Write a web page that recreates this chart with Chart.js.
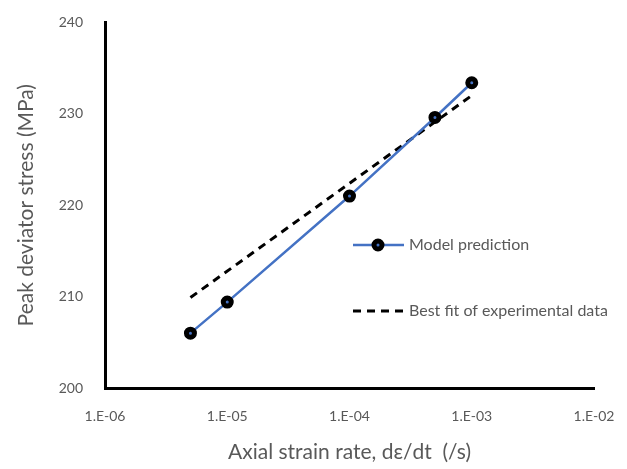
<!DOCTYPE html>
<html>
<head>
<meta charset="utf-8">
<script src="https://cdn.jsdelivr.net/npm/chart.js@4/dist/chart.umd.min.js"></script>
<style>
  body { margin: 0; background: #fff; }
</style>
</head>
<body>
<canvas id="chart" width="627" height="469"></canvas>
<script>
// --- data ---
const strainRates = [5e-6, 1e-5, 1e-4, 5e-4, 1e-3];
const modelStress = [206.0, 209.4, 221.0, 229.6, 233.4];
const fitRates = [5e-6, 1e-3];
const fitStress = [209.9, 232.0];
const xTicks = [1e-6, 1e-5, 1e-4, 1e-3, 1e-2];
const yTicks = [200, 210, 220, 230, 240];

const GREY = '#595959';
const FONT = 'Lato, "Open Sans", sans-serif';

// draw the legend inside the plot, like the original
const legendInside = {
    id: 'legendInside',
    afterDraw(chart) {
        const ctx = chart.ctx;
        ctx.save();
        // model prediction
        ctx.strokeStyle = '#4472C4';
        ctx.lineWidth = 2.5;
        ctx.beginPath(); ctx.moveTo(353, 245); ctx.lineTo(404, 245); ctx.stroke();
        ctx.beginPath(); ctx.arc(378, 245, 4, 0, Math.PI * 2);
        ctx.fillStyle = '#4472C4'; ctx.fill();
        ctx.lineWidth = 5; ctx.strokeStyle = '#000'; ctx.stroke();
        // best fit
        ctx.setLineDash([8, 6]);
        ctx.lineWidth = 3;
        ctx.beginPath(); ctx.moveTo(353, 311); ctx.lineTo(404, 311); ctx.stroke();
        ctx.setLineDash([]);
        ctx.fillStyle = GREY;
        ctx.font = '16px ' + FONT;
        ctx.textBaseline = 'middle';
        ctx.fillText('Model prediction', 409, 245);
        ctx.fillText('Best fit of experimental data', 409, 311);
        ctx.restore();
    }
};

new Chart(document.getElementById('chart'), {
    type: 'scatter',
    data: {
        datasets: [{
            label: 'Model prediction',
            data: strainRates.map((x, i) => ({ x: x, y: modelStress[i] })),
            showLine: true,
            borderColor: '#4472C4',
            borderWidth: 2.5,
            pointRadius: 4,
            pointBorderWidth: 5,
            pointBorderColor: '#000',
            pointBackgroundColor: '#4472C4',
            order: 1
        }, {
            label: 'Best fit of experimental data',
            data: fitRates.map((x, i) => ({ x: x, y: fitStress[i] })),
            showLine: true,
            borderColor: '#000',
            borderWidth: 3,
            borderDash: [8, 6],
            pointRadius: 0,
            order: 2
        }]
    },
    options: {
        responsive: false,
        animation: false,
        layout: { padding: { top: 18, right: 33, left: 0, bottom: 0 } },
        plugins: { legend: { display: false }, tooltip: { enabled: false } },
        scales: {
            x: {
                type: 'logarithmic',
                min: 1e-6,
                max: 1e-2,
                afterBuildTicks: (axis) => { axis.ticks = xTicks.map(v => ({ value: v })); },
                afterFit: (scale) => { scale.height = 81; },
                grid: { display: false },
                border: { display: true, color: '#000', width: 3 },
                ticks: {
                    color: GREY,
                    font: { family: FONT, size: 14 },
                    padding: 12,
                    maxRotation: 0,
                    callback: (v) => '1.E-' + String(Math.abs(Math.round(Math.log10(v)))).padStart(2, '0')
                },
                title: {
                    display: true,
                    text: 'Axial strain rate, dε/dt  (/s)',
                    color: GREY,
                    font: { family: FONT, size: 21 },
                    padding: { top: 10 }
                }
            },
            y: {
                min: 200,
                max: 240,
                afterBuildTicks: (axis) => { axis.ticks = yTicks.map(v => ({ value: v })); },
                afterFit: (scale) => { scale.width = 105; },
                grid: { display: false },
                border: { display: true, color: '#000', width: 3 },
                ticks: {
                    color: GREY,
                    font: { family: FONT, size: 14 },
                    padding: 14
                },
                title: {
                    display: true,
                    text: 'Peak deviator stress (MPa)',
                    color: GREY,
                    font: { family: FONT, size: 21 },
                    padding: { top: 14, bottom: 0 }
                }
            }
        }
    },
    plugins: [legendInside]
});
</script>
</body>
</html>
